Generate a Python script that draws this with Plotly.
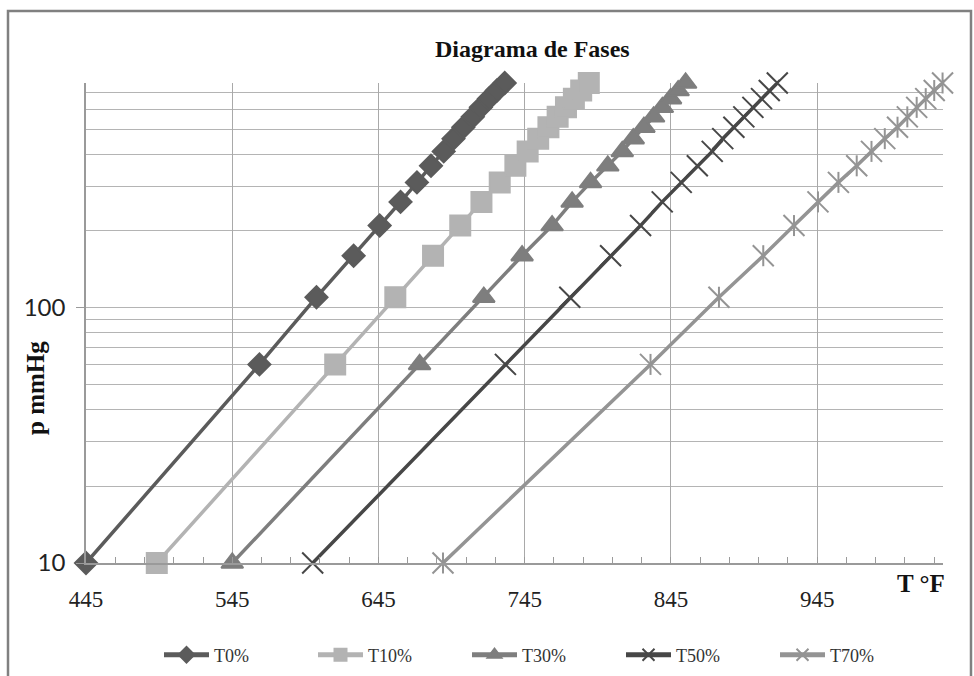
import plotly.graph_objects as go
import math

# ---- data ----
p_mmHg = [10, 60, 110, 160, 210, 260, 310, 360, 410, 460, 510, 560, 610, 660, 710, 760]
T0 = [445, 563.6, 602.6, 628, 645.8, 660.1, 671.3, 680.9, 689.6, 696.3, 703, 709.5, 715, 720.5, 726, 731.3]
T10 = [493.4, 615.4, 656.5, 682.3, 700.9, 715.4, 727.9, 738.6, 747, 754.2, 761.2, 767.5, 773.2, 778.6, 783.6, 788.8]
T30 = [545, 673.1, 717, 743.2, 763.7, 777.4, 790, 801.8, 811.7, 819.2, 826.5, 833.1, 839.1, 844.7, 849.9, 855]
T50 = [600, 731.8, 775.8, 803.7, 824.2, 839, 852, 863, 873.2, 880.4, 888, 894.8, 901, 906.9, 912.2, 917.7]
T70 = [689.1, 831, 877.8, 908.1, 929.1, 945.5, 959.5, 972, 982.1, 991.2, 999.9, 1006.6, 1013, 1019.2, 1025, 1030.7]

series_names = ["T0%", "T10%", "T30%", "T50%", "T70%"]
x_ticks = [445, 545, 645, 745, 845, 945]
y_ticks = [10, 100]
y_minor = [20, 30, 40, 50, 60, 70, 80, 90, 200, 300, 400, 500, 600, 700, 760]

colors = ["#5b5b5b", "#b3b3b3", "#7e7e7e", "#474747", "#949494"]
symbols = ["diamond", "square", "triangle-up", "x-thin", "x-thin"]
sizes = [17, 20, 19, 21, 21]

serif = "Liberation Serif, Times New Roman, serif"

fig = go.Figure()
for name, xs, c, sym, sz in zip(series_names, [T0, T10, T30, T50, T70], colors, symbols, sizes):
    fig.add_trace(go.Scatter(
        x=xs, y=p_mmHg, name=name, mode="lines+markers",
        line=dict(color=c, width=3.5),
        marker=dict(symbol=sym, size=sz, color=c, line=dict(color=c, width=2)),
        cliponaxis=False, legendgroup=name,
    ))
# vertical bar of the star markers of T70%
fig.add_trace(go.Scatter(
    x=T70, y=p_mmHg, mode="markers", showlegend=False, legendgroup="T70%",
    marker=dict(symbol="line-ns", size=15, color=colors[4], line=dict(color=colors[4], width=2)),
    cliponaxis=False, hoverinfo="skip",
))

L, R, T, B = 86, 31, 83, 113
W, H = 974, 676
pw, ph = W - L - R, H - T - B

def px_x(px):
    return (px - L) / pw

def px_y(py):
    return (H - B - py) / ph

grid_c = "#b4b4b4"
fig.update_layout(
    width=W, height=H,
    margin=dict(l=L, r=R, t=T, b=B, autoexpand=False),
    paper_bgcolor="white", plot_bgcolor="white",
    showlegend=True,
    legend=dict(
        orientation="h", x=px_x(159), y=px_y(655), xanchor="left", yanchor="middle",
        font=dict(family=serif, size=18, color="#333"),
        entrywidth=94, entrywidthmode="pixels", itemwidth=45, itemsizing="constant",
        bgcolor="rgba(0,0,0,0)",
    ),
    xaxis=dict(
        range=[445, 1031], tickmode="array", tickvals=x_ticks,
        ticktext=[str(v) for v in x_ticks], automargin=False,
        showgrid=True, gridcolor="#a9a9a9", gridwidth=1.3,
        showline=True, linecolor="#9a9a9a", linewidth=1.5,
        ticks="inside", ticklen=6, tickcolor="#9a9a9a",
        ticklabelstandoff=15,
        tickfont=dict(family=serif, size=23, color="#222"),
        minor=dict(tick0=445, dtick=20, ticks="inside", ticklen=6, tickcolor="#9a9a9a", showgrid=False),
        zeroline=False,
    ),
    yaxis=dict(
        type="log", range=[1, math.log10(760)], automargin=False,
        tickmode="array", tickvals=y_ticks, ticktext=[str(v) for v in y_ticks],
        showgrid=True, gridcolor=grid_c, gridwidth=1.3,
        showline=True, linecolor="#9a9a9a", linewidth=1.5,
        ticks="outside", ticklen=8, tickcolor="#9a9a9a",
        ticklabelstandoff=6,
        tickfont=dict(family="Lato, Liberation Sans, sans-serif", size=24, color="#222"),
        minor=dict(tickmode="array", tickvals=y_minor, showgrid=True, gridcolor=grid_c, gridwidth=1.3, ticks=""),
        zeroline=False,
    ),
    shapes=[dict(type="rect", xref="paper", yref="paper",
                 x0=px_x(8), x1=px_x(971), y0=px_y(690), y1=px_y(11),
                 line=dict(color="#808080", width=2.5), fillcolor="rgba(0,0,0,0)", layer="below")],
    annotations=[
        dict(text="<b>Diagrama de Fases</b>", xref="paper", yref="paper",
             x=px_x(532), y=px_y(49), xanchor="center", yanchor="middle", showarrow=False,
             font=dict(family=serif, size=24, color="#111")),
        dict(text="<b>p mmHg</b>", xref="paper", yref="paper", textangle=-90,
             x=px_x(35), y=px_y(388), xanchor="center", yanchor="middle", showarrow=False,
             font=dict(family=serif, size=25, color="#111")),
        dict(text="<b>T °F</b>", xref="paper", yref="paper",
             x=px_x(921), y=px_y(583), xanchor="center", yanchor="middle", showarrow=False,
             font=dict(family=serif, size=25, color="#111")),
    ],
)

fig.write_html("out.html", config={"displayModeBar": False},
               post_script="document.body.style.margin='0';")
